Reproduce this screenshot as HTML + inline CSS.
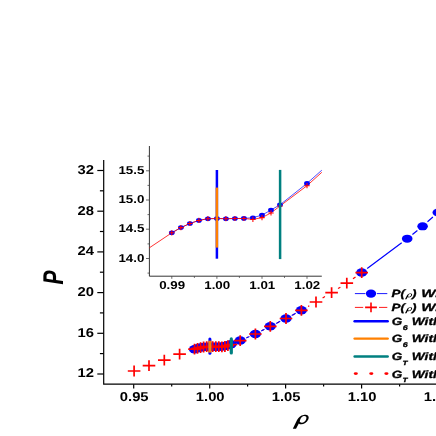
<!DOCTYPE html><html><head><meta charset="utf-8"><style>html,body{margin:0;padding:0;background:#fff;}svg{display:block;font-family:"Liberation Sans",sans-serif;}</style></head><body>
<svg width="436" height="436" viewBox="0 0 436 436" text-rendering="geometricPrecision">
<rect width="436" height="436" fill="#fff"/>
<defs><filter id="f" filterUnits="userSpaceOnUse" x="0" y="0" width="436" height="436"><feOffset dx="0" dy="0"/></filter></defs>
<g filter="url(#f)">
<g stroke="#000" stroke-width="1.2" fill="none" stroke-linecap="butt">
<path d="M103.7 160 V384.2 H436"/>
<path d="M97.3 170.5 H103.7"/>
<path d="M97.3 211.2 H103.7"/>
<path d="M97.3 251.9 H103.7"/>
<path d="M97.3 292.6 H103.7"/>
<path d="M97.3 333.3 H103.7"/>
<path d="M97.3 374.0 H103.7"/>
<path d="M99.9 190.8 H103.7"/>
<path d="M99.9 231.5 H103.7"/>
<path d="M99.9 272.2 H103.7"/>
<path d="M99.9 312.9 H103.7"/>
<path d="M99.9 353.6 H103.7"/>
<path d="M133.7 384.2 V388.5"/>
<path d="M209.7 384.2 V388.5"/>
<path d="M285.6 384.2 V388.5"/>
<path d="M361.6 384.2 V388.5"/>
<path d="M171.7 384.2 V386.6"/>
<path d="M247.6 384.2 V386.6"/>
<path d="M323.6 384.2 V386.6"/>
<path d="M399.6 384.2 V386.6"/>
</g>
<text transform="translate(94.0 173.8) scale(1.148 1)" text-anchor="end" font-size="12.9" font-weight="bold" >32</text>
<text transform="translate(94.0 214.5) scale(1.148 1)" text-anchor="end" font-size="12.9" font-weight="bold" >28</text>
<text transform="translate(94.0 255.2) scale(1.148 1)" text-anchor="end" font-size="12.9" font-weight="bold" >24</text>
<text transform="translate(94.0 295.9) scale(1.148 1)" text-anchor="end" font-size="12.9" font-weight="bold" >20</text>
<text transform="translate(94.0 336.6) scale(1.148 1)" text-anchor="end" font-size="12.9" font-weight="bold" >16</text>
<text transform="translate(94.0 377.3) scale(1.148 1)" text-anchor="end" font-size="12.9" font-weight="bold" >12</text>
<text transform="translate(134.2 401.3) scale(1.148 1)" text-anchor="middle" font-size="12.9" font-weight="bold" >0.95</text>
<text transform="translate(210.2 401.3) scale(1.148 1)" text-anchor="middle" font-size="12.9" font-weight="bold" >1.00</text>
<text transform="translate(286.1 401.3) scale(1.148 1)" text-anchor="middle" font-size="12.9" font-weight="bold" >1.05</text>
<text transform="translate(362.1 401.3) scale(1.148 1)" text-anchor="middle" font-size="12.9" font-weight="bold" >1.10</text>
<text transform="translate(438.1 401.3) scale(1.148 1)" text-anchor="middle" font-size="12.9" font-weight="bold" >1.15</text>
<text transform="translate(63.1 284.5) scale(1.36 1) rotate(-90)" font-size="21" font-weight="bold" font-style="italic">P</text>
<path transform="translate(285 408) scale(0.07353)" fill="#000" fill-rule="evenodd" d="M106 283 L150 283 L188 210 C215 238 290 218 318 152 C336 104 296 88 255 94 C212 100 184 126 164 162 Z M200 188 C206 150 222 116 254 110 C282 106 300 120 288 152 C272 198 228 212 200 188 Z"/>
<path d="M149.4 146.0 V276.2 H321.8" stroke="#111" stroke-width="0.85" fill="none"/>
<g stroke="#444" stroke-width="0.8" fill="none">
<path d="M146.0 170.8 H149.4"/>
<path d="M146.0 200.0 H149.4"/>
<path d="M146.0 229.2 H149.4"/>
<path d="M146.0 258.5 H149.4"/>
<path d="M147.5 156.1 H149.4"/>
<path d="M147.5 185.4 H149.4"/>
<path d="M147.5 214.6 H149.4"/>
<path d="M147.5 243.9 H149.4"/>
<path d="M147.5 273.1 H149.4"/>
<path d="M171.8 276.2 V278.8"/>
<path d="M216.9 276.2 V278.8"/>
<path d="M262.0 276.2 V278.8"/>
<path d="M307.0 276.2 V278.8"/>
<path d="M194.4 276.2 V277.9"/>
<path d="M239.4 276.2 V277.9"/>
<path d="M284.5 276.2 V277.9"/>
</g>
<text transform="translate(144.4 173.8) scale(1.17 1)" text-anchor="end" font-size="11.4" font-weight="bold" >15.5</text>
<text transform="translate(144.4 203.0) scale(1.17 1)" text-anchor="end" font-size="11.4" font-weight="bold" >15.0</text>
<text transform="translate(144.4 232.2) scale(1.17 1)" text-anchor="end" font-size="11.4" font-weight="bold" >14.5</text>
<text transform="translate(144.4 261.5) scale(1.17 1)" text-anchor="end" font-size="11.4" font-weight="bold" >14.0</text>
<text transform="translate(172.1 289.4) scale(1.17 1)" text-anchor="middle" font-size="11.4" font-weight="bold" >0.99</text>
<text transform="translate(217.2 289.4) scale(1.17 1)" text-anchor="middle" font-size="11.4" font-weight="bold" >1.00</text>
<text transform="translate(262.3 289.4) scale(1.17 1)" text-anchor="middle" font-size="11.4" font-weight="bold" >1.01</text>
<text transform="translate(307.3 289.4) scale(1.17 1)" text-anchor="middle" font-size="11.4" font-weight="bold" >1.02</text>
<polyline fill="none" stroke="#0000ff" stroke-width="0.7" points="171.8,232.8 180.9,227.6 189.9,223.5 198.9,220.4 207.9,218.7 216.9,218.5 225.9,218.7 234.9,218.5 243.9,218.4 252.9,217.7 262.0,215.1 271.0,210.0 280.0,204.8 307.0,183.4 321.8,170.2"/>
<polyline fill="none" stroke="#ff0000" stroke-width="0.8" points="149.4,247.8 171.8,232.8 180.9,227.6 189.9,223.5 198.9,220.4 207.9,218.7 216.9,218.5 225.9,218.7 234.9,218.5 243.9,218.5 252.9,219.4 262.0,217.6 271.0,212.9 280.0,206.0 307.0,185.7 321.8,172.3"/>
<ellipse cx="171.8" cy="232.8" rx="2.9" ry="2.3" fill="#0000ff"/>
<ellipse cx="180.9" cy="227.6" rx="2.9" ry="2.3" fill="#0000ff"/>
<ellipse cx="189.9" cy="223.5" rx="2.9" ry="2.3" fill="#0000ff"/>
<ellipse cx="198.9" cy="220.4" rx="2.9" ry="2.3" fill="#0000ff"/>
<ellipse cx="207.9" cy="218.7" rx="2.9" ry="2.3" fill="#0000ff"/>
<ellipse cx="216.9" cy="218.5" rx="2.9" ry="2.3" fill="#0000ff"/>
<ellipse cx="225.9" cy="218.7" rx="2.9" ry="2.3" fill="#0000ff"/>
<ellipse cx="234.9" cy="218.5" rx="2.9" ry="2.3" fill="#0000ff"/>
<ellipse cx="243.9" cy="218.4" rx="2.9" ry="2.3" fill="#0000ff"/>
<ellipse cx="252.9" cy="217.7" rx="2.9" ry="2.3" fill="#0000ff"/>
<ellipse cx="262.0" cy="215.1" rx="2.9" ry="2.3" fill="#0000ff"/>
<ellipse cx="271.0" cy="210.0" rx="2.9" ry="2.3" fill="#0000ff"/>
<ellipse cx="280.0" cy="204.8" rx="2.9" ry="2.3" fill="#0000ff"/>
<ellipse cx="307.0" cy="183.4" rx="2.9" ry="2.3" fill="#0000ff"/>
<path d="M169.1 232.8 H174.5 M171.8 230.2 V235.4" stroke="#ff0000" stroke-width="1.05" fill="none"/>
<path d="M178.2 227.6 H183.6 M180.9 225.0 V230.2" stroke="#ff0000" stroke-width="1.05" fill="none"/>
<path d="M187.2 223.5 H192.6 M189.9 220.9 V226.1" stroke="#ff0000" stroke-width="1.05" fill="none"/>
<path d="M196.2 220.4 H201.6 M198.9 217.8 V223.0" stroke="#ff0000" stroke-width="1.05" fill="none"/>
<path d="M205.2 218.7 H210.6 M207.9 216.1 V221.3" stroke="#ff0000" stroke-width="1.05" fill="none"/>
<path d="M214.2 218.5 H219.6 M216.9 215.9 V221.1" stroke="#ff0000" stroke-width="1.05" fill="none"/>
<path d="M223.2 218.7 H228.6 M225.9 216.1 V221.3" stroke="#ff0000" stroke-width="1.05" fill="none"/>
<path d="M232.2 218.5 H237.6 M234.9 215.9 V221.1" stroke="#ff0000" stroke-width="1.05" fill="none"/>
<path d="M241.2 218.5 H246.6 M243.9 215.9 V221.1" stroke="#ff0000" stroke-width="1.05" fill="none"/>
<path d="M250.2 219.4 H255.6 M252.9 216.8 V222.0" stroke="#ff0000" stroke-width="1.05" fill="none"/>
<path d="M259.3 217.6 H264.7 M262.0 215.0 V220.2" stroke="#ff0000" stroke-width="1.05" fill="none"/>
<path d="M268.3 212.9 H273.7 M271.0 210.3 V215.5" stroke="#ff0000" stroke-width="1.05" fill="none"/>
<path d="M277.3 206.0 H282.7 M280.0 203.4 V208.6" stroke="#ff0000" stroke-width="1.05" fill="none"/>
<path d="M304.3 185.7 H309.7 M307.0 183.1 V188.3" stroke="#ff0000" stroke-width="1.05" fill="none"/>
<path d="M216.9 170 V258.7" stroke="#0000ff" stroke-width="2.5"/>
<path d="M216.9 187.6 V247.6" stroke="#ff8000" stroke-width="2.5"/>
<path d="M280.1 169.9 V259.1" stroke="#008080" stroke-width="2.5"/>
<path d="M247.4 337.5 L248.2 337.1 M262.3 330.5 L263.4 329.9 M277.3 322.9 L279.0 322.0 M292.8 314.9 L294.6 313.9 M308.1 306.5 L309.3 305.8 M322.6 298.1 L325.0 296.6 M338.0 288.6 L340.4 287.2 M353.0 278.8 L355.5 276.9" fill="none" stroke="#ff0000" stroke-width="1.2"/>
<path d="M246.2 337.9 L249.4 336.5 M261.2 331.0 L264.5 329.2 M276.1 323.4 L280.2 321.3 M291.7 315.4 L295.7 313.2" fill="none" stroke="#0000ff" stroke-width="1.1"/>
<path d="M367.2 268.5 L401.7 242.7 M412.4 234.5 L417.4 230.5 M427.5 221.8 L432.9 217.0" fill="none" stroke="#0000ff" stroke-width="1.2"/>
<ellipse cx="194.5" cy="349.2" rx="5.6" ry="4.25" fill="#0000ff"/>
<ellipse cx="197.5" cy="348.3" rx="5.6" ry="4.25" fill="#0000ff"/>
<ellipse cx="200.6" cy="347.6" rx="5.6" ry="4.25" fill="#0000ff"/>
<ellipse cx="203.6" cy="347.0" rx="5.6" ry="4.25" fill="#0000ff"/>
<ellipse cx="206.7" cy="346.7" rx="5.6" ry="4.25" fill="#0000ff"/>
<ellipse cx="209.7" cy="346.7" rx="5.6" ry="4.25" fill="#0000ff"/>
<ellipse cx="212.7" cy="346.7" rx="5.6" ry="4.25" fill="#0000ff"/>
<ellipse cx="215.8" cy="346.7" rx="5.6" ry="4.25" fill="#0000ff"/>
<ellipse cx="218.8" cy="346.7" rx="5.6" ry="4.25" fill="#0000ff"/>
<ellipse cx="221.9" cy="346.6" rx="5.6" ry="4.25" fill="#0000ff"/>
<ellipse cx="224.9" cy="346.1" rx="5.6" ry="4.25" fill="#0000ff"/>
<ellipse cx="227.9" cy="345.2" rx="5.6" ry="4.25" fill="#0000ff"/>
<ellipse cx="231.0" cy="344.3" rx="5.6" ry="4.25" fill="#0000ff"/>
<ellipse cx="240.2" cy="340.5" rx="5.6" ry="4.25" fill="#0000ff"/>
<ellipse cx="255.4" cy="333.9" rx="5.6" ry="4.25" fill="#0000ff"/>
<ellipse cx="270.3" cy="326.3" rx="5.6" ry="4.25" fill="#0000ff"/>
<ellipse cx="286.0" cy="318.4" rx="5.6" ry="4.25" fill="#0000ff"/>
<ellipse cx="301.4" cy="310.2" rx="5.6" ry="4.25" fill="#0000ff"/>
<ellipse cx="361.7" cy="272.5" rx="5.6" ry="4.25" fill="#0000ff"/>
<ellipse cx="407.2" cy="238.7" rx="5.3" ry="4.05" fill="#0000ff"/>
<ellipse cx="422.6" cy="226.3" rx="5.3" ry="4.05" fill="#0000ff"/>
<ellipse cx="437.8" cy="212.5" rx="5.3" ry="4.05" fill="#0000ff"/>
<path d="M127.8 371.0 H140.4 M134.1 365.6 V376.4" stroke="#ff0000" stroke-width="1.7" fill="none"/>
<path d="M142.7 365.7 H155.3 M149.0 360.3 V371.1" stroke="#ff0000" stroke-width="1.7" fill="none"/>
<path d="M158.0 360.1 H170.6 M164.3 354.7 V365.5" stroke="#ff0000" stroke-width="1.7" fill="none"/>
<path d="M173.3 354.1 H185.9 M179.6 348.7 V359.5" stroke="#ff0000" stroke-width="1.7" fill="none"/>
<path d="M188.2 349.2 H200.8 M194.5 343.8 V354.6" stroke="#ff0000" stroke-width="1.7" fill="none"/>
<path d="M191.2 348.3 H203.8 M197.5 342.9 V353.7" stroke="#ff0000" stroke-width="1.7" fill="none"/>
<path d="M194.3 347.6 H206.9 M200.6 342.2 V353.0" stroke="#ff0000" stroke-width="1.7" fill="none"/>
<path d="M197.3 347.0 H209.9 M203.6 341.6 V352.4" stroke="#ff0000" stroke-width="1.7" fill="none"/>
<path d="M200.4 346.7 H213.0 M206.7 341.3 V352.1" stroke="#ff0000" stroke-width="1.7" fill="none"/>
<path d="M203.4 346.7 H216.0 M209.7 341.3 V352.1" stroke="#ff0000" stroke-width="1.7" fill="none"/>
<path d="M206.4 346.7 H219.0 M212.7 341.3 V352.1" stroke="#ff0000" stroke-width="1.7" fill="none"/>
<path d="M209.5 346.7 H222.1 M215.8 341.3 V352.1" stroke="#ff0000" stroke-width="1.7" fill="none"/>
<path d="M212.5 346.7 H225.1 M218.8 341.3 V352.1" stroke="#ff0000" stroke-width="1.7" fill="none"/>
<path d="M215.6 346.9 H228.2 M221.9 341.5 V352.3" stroke="#ff0000" stroke-width="1.7" fill="none"/>
<path d="M218.6 346.5 H231.2 M224.9 341.1 V351.9" stroke="#ff0000" stroke-width="1.7" fill="none"/>
<path d="M221.6 345.7 H234.2 M227.9 340.3 V351.1" stroke="#ff0000" stroke-width="1.7" fill="none"/>
<path d="M224.7 344.5 H237.3 M231.0 339.1 V349.9" stroke="#ff0000" stroke-width="1.7" fill="none"/>
<path d="M233.9 340.6 H246.5 M240.2 335.2 V346.0" stroke="#ff0000" stroke-width="1.7" fill="none"/>
<path d="M249.1 334.0 H261.7 M255.4 328.6 V339.4" stroke="#ff0000" stroke-width="1.7" fill="none"/>
<path d="M264.0 326.4 H276.6 M270.3 321.0 V331.8" stroke="#ff0000" stroke-width="1.7" fill="none"/>
<path d="M279.7 318.5 H292.3 M286.0 313.1 V323.9" stroke="#ff0000" stroke-width="1.7" fill="none"/>
<path d="M295.1 310.3 H307.7 M301.4 304.9 V315.7" stroke="#ff0000" stroke-width="1.7" fill="none"/>
<path d="M309.7 302.0 H322.3 M316.0 296.6 V307.4" stroke="#ff0000" stroke-width="1.7" fill="none"/>
<path d="M325.3 292.7 H337.9 M331.6 287.3 V298.1" stroke="#ff0000" stroke-width="1.7" fill="none"/>
<path d="M340.5 283.1 H353.1 M346.8 277.7 V288.5" stroke="#ff0000" stroke-width="1.7" fill="none"/>
<path d="M355.4 272.6 H368.0 M361.7 267.2 V278.0" stroke="#ff0000" stroke-width="1.7" fill="none"/>
<path d="M209.9 338.9 V353.3" stroke="#0000ff" stroke-width="3.0" stroke-linecap="round"/>
<path d="M209.9 340.7 V352.6" stroke="#ff8000" stroke-width="3.2"/>
<path d="M231.3 338.9 V353.0" stroke="#008080" stroke-width="3.2" stroke-linecap="round"/>
<path d="M354.9 293.6 H365.3 M377 293.6 H387.3" stroke="#0000ff" stroke-width="0.9"/>
<ellipse cx="371.0" cy="293.6" rx="5.2" ry="4.1" fill="#0000ff"/>
<path d="M354.9 307.4 H363.2 M379 307.4 H387.3" stroke="#ff0000" stroke-width="0.9"/>
<path d="M365.1 307.4 H376.9 M371.0 302.5 V312.3" stroke="#ff0000" stroke-width="1.6" fill="none"/>
<path d="M354.6 321.2 H387.7" stroke="#0000ff" stroke-width="2.4" stroke-linecap="round"/>
<path d="M354.6 338.6 H387.7" stroke="#ff8000" stroke-width="2.4" stroke-linecap="round"/>
<path d="M354.6 356.5 H387.7" stroke="#008080" stroke-width="2.4" stroke-linecap="round"/>
<ellipse cx="355.8" cy="373.6" rx="2.1" ry="1.3" fill="#ff0000"/>
<ellipse cx="371.3" cy="373.6" rx="2.1" ry="1.3" fill="#ff0000"/>
<ellipse cx="386.4" cy="373.6" rx="2.1" ry="1.3" fill="#ff0000"/>
<text transform="translate(391.6 297.2) scale(1.27 1)" font-size="10.6" font-weight="bold" font-style="italic" stroke="#000" stroke-width="0.32">P(</text>
<path transform="translate(401.5 290.57) scale(0.033 0.031)" fill="#000" fill-rule="evenodd" d="M106 283 L150 283 L188 210 C215 238 290 218 318 152 C336 104 296 88 255 94 C212 100 184 126 164 162 Z M200 188 C206 150 222 116 254 110 C282 106 300 120 288 152 C272 198 228 212 200 188 Z"/>
<text transform="translate(412.0 297.2) scale(1.27 1)" font-size="10.6" font-weight="bold" font-style="italic" stroke="#000" stroke-width="0.32">)</text>
<text transform="translate(421.2 297.2) scale(1.42 1)" font-size="10.6" font-weight="bold" font-style="italic" stroke="#000" stroke-width="0.32">With</text>
<text transform="translate(391.6 311.0) scale(1.27 1)" font-size="10.6" font-weight="bold" font-style="italic" stroke="#000" stroke-width="0.32">P(</text>
<path transform="translate(401.5 304.37) scale(0.033 0.031)" fill="#000" fill-rule="evenodd" d="M106 283 L150 283 L188 210 C215 238 290 218 318 152 C336 104 296 88 255 94 C212 100 184 126 164 162 Z M200 188 C206 150 222 116 254 110 C282 106 300 120 288 152 C272 198 228 212 200 188 Z"/>
<text transform="translate(412.0 311.0) scale(1.27 1)" font-size="10.6" font-weight="bold" font-style="italic" stroke="#000" stroke-width="0.32">)</text>
<text transform="translate(421.2 311.0) scale(1.42 1)" font-size="10.6" font-weight="bold" font-style="italic" stroke="#000" stroke-width="0.32">With</text>
<text transform="translate(391.8 324.8) scale(1.27 1)" font-size="10.6" font-weight="bold" font-style="italic" stroke="#000" stroke-width="0.32">G</text>
<text transform="translate(402.7 329.8) scale(1.3 1)" font-size="6.8" font-weight="bold" font-style="italic" stroke="#000" stroke-width="0.3">6</text>
<text transform="translate(411.8 324.8) scale(1.29 1)" font-size="10.6" font-weight="bold" font-style="italic" stroke="#000" stroke-width="0.32">With</text>
<text transform="translate(391.8 342.4) scale(1.27 1)" font-size="10.6" font-weight="bold" font-style="italic" stroke="#000" stroke-width="0.32">G</text>
<text transform="translate(402.7 347.4) scale(1.3 1)" font-size="6.8" font-weight="bold" font-style="italic" stroke="#000" stroke-width="0.3">6</text>
<text transform="translate(411.8 342.4) scale(1.29 1)" font-size="10.6" font-weight="bold" font-style="italic" stroke="#000" stroke-width="0.32">With</text>
<text transform="translate(391.8 360.4) scale(1.27 1)" font-size="10.6" font-weight="bold" font-style="italic" stroke="#000" stroke-width="0.32">G</text>
<text transform="translate(402.6 365.0) scale(1.35 1)" font-size="6.1" font-weight="bold" font-style="italic" stroke="#000" stroke-width="0.3">T</text>
<text transform="translate(411.8 360.4) scale(1.29 1)" font-size="10.6" font-weight="bold" font-style="italic" stroke="#000" stroke-width="0.32">With</text>
<text transform="translate(391.8 377.5) scale(1.27 1)" font-size="10.6" font-weight="bold" font-style="italic" stroke="#000" stroke-width="0.32">G</text>
<text transform="translate(402.6 382.1) scale(1.35 1)" font-size="6.1" font-weight="bold" font-style="italic" stroke="#000" stroke-width="0.3">T</text>
<text transform="translate(411.8 377.5) scale(1.29 1)" font-size="10.6" font-weight="bold" font-style="italic" stroke="#000" stroke-width="0.32">With</text>
</g>
</svg></body></html>
